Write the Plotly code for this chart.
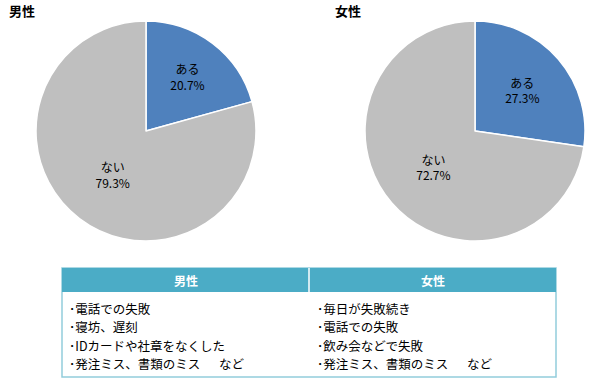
import plotly.graph_objects as go

categories = ["ある", "ない"]
male_values = [20.7, 79.3]
female_values = [27.3, 72.7]
pie_titles = ["男性", "女性"]
slice_colors = ["#4F81BD", "#BFBFBF"]

table_headers = ["男性", "女性"]
male_items = ["･電話での失敗", "･寝坊、遅刻", "･IDカードや社章をなくした", "･発注ミス、書類のミス　\u2002など"]
female_items = ["･毎日が失敗続き", "･電話での失敗", "･飲み会などで失敗", "･発注ミス、書類のミス　\u2002など"]

W, H = 600, 378
FONT = "Noto Sans CJK JP"

def px(x):
    return x / W

def py(y):
    return 1 - y / H

fig = go.Figure()

for vals, xd in [(male_values, [36, 256]), (female_values, [365, 585])]:
    fig.add_trace(go.Pie(
        labels=categories,
        values=vals,
        sort=False,
        direction="clockwise",
        rotation=0,
        marker=dict(colors=slice_colors, line=dict(color="white", width=1.5)),
        texttemplate="%{label}<br>%{value:.1f}%",
        textposition="inside",
        insidetextorientation="horizontal",
        insidetextfont=dict(color="black", size=12, family=FONT),
        hoverinfo="label+percent",
        domain=dict(x=[px(xd[0]), px(xd[1])], y=[py(241), py(21)]),
        showlegend=False,
    ))

annotations = []
# pie titles
annotations.append(dict(x=px(7), y=py(11), text="<b>" + pie_titles[0] + "</b>", showarrow=False,
                        xanchor="left", yanchor="middle", xref="paper", yref="paper",
                        font=dict(size=13, color="black", family=FONT)))
annotations.append(dict(x=px(333), y=py(11), text="<b>" + pie_titles[1] + "</b>", showarrow=False,
                        xanchor="left", yanchor="middle", xref="paper", yref="paper",
                        font=dict(size=13, color="black", family=FONT)))

# table
tx0, tx1, tmid = 62, 556, 309
hy0, hy1, by1 = 268, 292, 377
shapes = [
    dict(type="rect", xref="paper", yref="paper", x0=px(tx0), x1=px(tx1), y0=py(by1), y1=py(hy0),
         line=dict(color="#92CDDC", width=1.5), fillcolor="white", layer="below"),
    dict(type="rect", xref="paper", yref="paper", x0=px(tx0), x1=px(tx1), y0=py(hy1), y1=py(hy0),
         line=dict(color="#4BACC6", width=0), fillcolor="#4BACC6", layer="below"),
    dict(type="line", xref="paper", yref="paper", x0=px(tmid), x1=px(tmid), y0=py(hy1), y1=py(hy0),
         line=dict(color="white", width=1.5)),
]
for hdr, cx in zip(table_headers, [(tx0 + tmid) / 2, (tmid + tx1) / 2]):
    annotations.append(dict(x=px(cx), y=py(280), text="<b>" + hdr + "</b>", showarrow=False,
                            xanchor="center", yanchor="middle", xref="paper", yref="paper",
                            font=dict(size=12, color="white", family=FONT)))
line_mid, line_step = 336, 18.2
for items, lx in [(male_items, 68), (female_items, 316)]:
    n = len(items)
    for i, item in enumerate(items):
        yy = line_mid + (i - (n - 1) / 2) * line_step
        annotations.append(dict(x=px(lx), y=py(yy), text=item, showarrow=False, borderpad=0,
                                xanchor="left", yanchor="middle", align="left", xref="paper", yref="paper",
                                font=dict(size=12.5, color="black", family=FONT)))

fig.update_layout(
    width=W, height=H,
    margin=dict(l=0, r=0, t=0, b=0),
    paper_bgcolor="white",
    plot_bgcolor="white",
    font=dict(family=FONT),
    annotations=annotations,
    shapes=shapes,
)

fig.write_html("out.html", config={"displayModeBar": False},
               post_script="document.body.style.margin='0';document.body.style.padding='0';")
